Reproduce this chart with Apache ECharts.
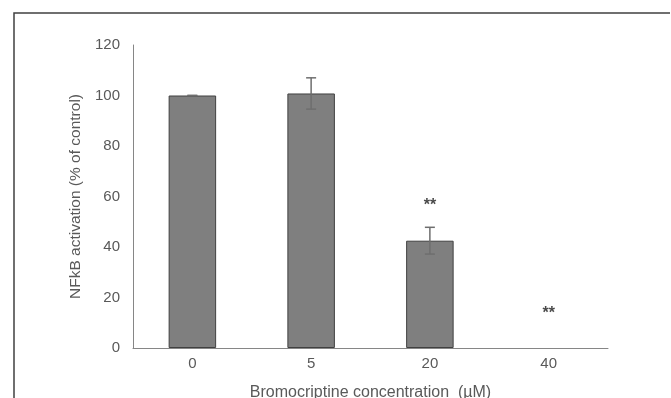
<!DOCTYPE html>
<html>
<head>
<meta charset="utf-8">
<script src="https://cdn.jsdelivr.net/npm/echarts@6/dist/echarts.min.js"></script>
<style>
html, body { margin: 0; padding: 0; background: #fff; }
#chart { width: 671px; height: 398px; }
</style>
</head>
<body>
<div id="chart"></div>
<script>
// 数据
var categories = ['0', '5', '20', '40'];
var means = [100, 100.8, 42.5, 0];
var errors = [0, 6.2, 5.3, 0];
var stars = ['', '', '**', '**'];
var starValues = [null, null, 56.5, 13.5];
var yTicks = [0, 20, 40, 60, 80, 100, 120];

var textColor = '#595959';
var font = 'Liberation Sans, Arial, sans-serif';

var chart = echarts.init(document.getElementById('chart'));

var barData = [];
var errData = [];
for (var i = 0; i < categories.length; i++) {
	// 值为0时不画柱子和误差线
	barData.push({value: means[i], itemStyle: means[i] === 0 ? {borderWidth: 0} : {}});
	if (means[i] > 0) errData.push([i, means[i] - errors[i], means[i] + errors[i]]);
}
var starData = [];
for (var j = 0; j < categories.length; j++) {
	if (stars[j]) starData.push({value: [j, starValues[j]], label: {formatter: stars[j]}});
}

var option = {
	animation: false,
	graphic: [{
		type: 'polyline',
		shape: {points: [[14, 398], [14, 13], [670, 13]]},
		style: {stroke: '#404040', lineWidth: 1.5, fill: null}
	}],
	grid: {left: 133, right: 63, top: 45, bottom: 50, outerBoundsMode: 'none', containLabel: false},
	xAxis: {
		type: 'category',
		data: categories,
		name: 'Bromocriptine concentration  (µM)',
		nameLocation: 'middle',
		nameGap: 37,
		nameTextStyle: {color: textColor, fontSize: 16, fontFamily: font},
		axisLine: {lineStyle: {color: '#868686', width: 1}},
		axisTick: {show: false},
		axisLabel: {color: textColor, fontSize: 15, fontFamily: font, margin: 8}
	},
	yAxis: {
		type: 'value',
		min: yTicks[0],
		max: yTicks[yTicks.length - 1],
		interval: 20,
		name: 'NFkB activation (% of control)',
		nameLocation: 'middle',
		nameGap: 45,
		nameTextStyle: {color: textColor, fontSize: 15.5, fontFamily: font},
		axisLine: {show: true, lineStyle: {color: '#868686', width: 1}},
		axisTick: {show: false},
		splitLine: {show: false},
		axisLabel: {color: textColor, fontSize: 15, fontFamily: font, margin: 13}
	},
	series: [{
		type: 'bar',
		data: barData,
		barWidth: '40%',
		itemStyle: {color: '#7f7f7f', borderColor: '#404040', borderWidth: 1}
	}, {
		type: 'custom',
		data: errData,
		z: 10,
		renderItem: function (params, api) {
			var x = api.value(0);
			var lo = api.coord([x, api.value(1)]);
			var hi = api.coord([x, api.value(2)]);
			var cap = 5;
			var st = {stroke: '#6e6e6e', lineWidth: 1.5};
			return {
				type: 'group',
				children: [
					{type: 'line', shape: {x1: hi[0], y1: hi[1], x2: lo[0], y2: lo[1]}, style: st},
					{type: 'line', shape: {x1: hi[0] - cap, y1: hi[1], x2: hi[0] + cap, y2: hi[1]}, style: st},
					{type: 'line', shape: {x1: lo[0] - cap, y1: lo[1], x2: lo[0] + cap, y2: lo[1]}, style: st}
				]
			};
		}
	}, {
		type: 'scatter',
		data: starData,
		symbolSize: 0,
		label: {show: true, position: 'inside', color: '#1a1a1a', fontSize: 16, fontWeight: 'bold', fontFamily: font}
	}]
};
chart.setOption(option);
</script>
</body>
</html>
